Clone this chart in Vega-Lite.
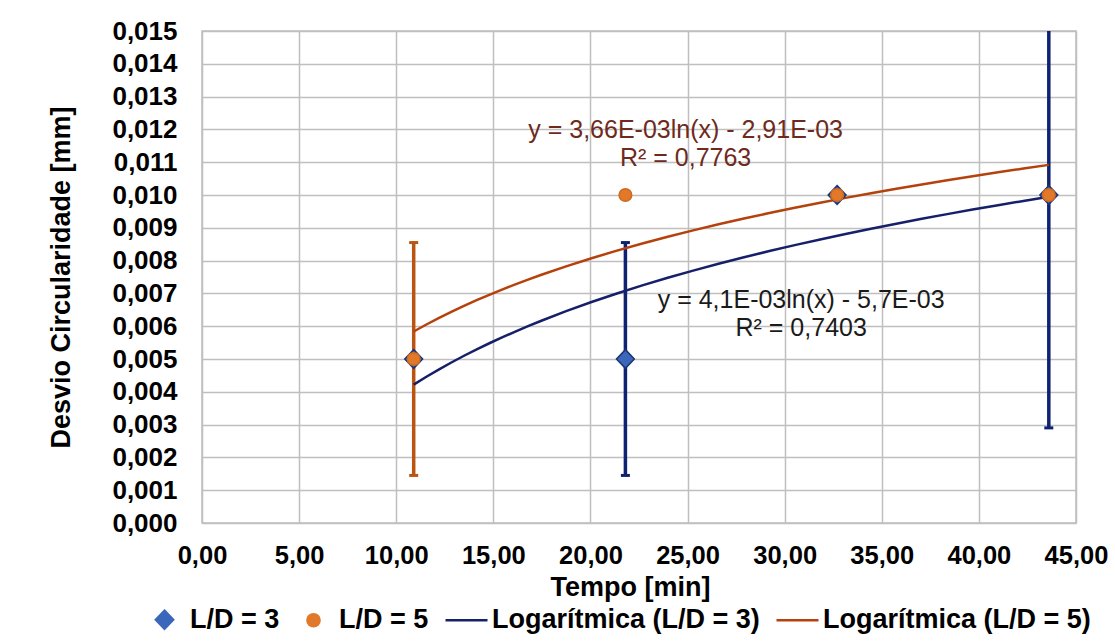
{
  "$schema": "https://vega.github.io/schema/vega-lite/v6.json",
  "width": 874,
  "height": 492,
  "autosize": "none",
  "padding": {"left": 202, "top": 31, "right": 39, "bottom": 118},
  "background": "white",
  "datasets": {
    "pts": [
      {"x": 10.9, "y": 0.005, "serie": "L/D = 3", "trend": "Logarítmica (L/D = 3)"},
      {"x": 21.8, "y": 0.005, "serie": "L/D = 3", "trend": "Logarítmica (L/D = 3)"},
      {"x": 32.7, "y": 0.010, "serie": "L/D = 3", "trend": "Logarítmica (L/D = 3)"},
      {"x": 43.6, "y": 0.010, "serie": "L/D = 3", "trend": "Logarítmica (L/D = 3)"},
      {"x": 10.9, "y": 0.005, "serie": "L/D = 5", "trend": "Logarítmica (L/D = 5)"},
      {"x": 21.8, "y": 0.010, "serie": "L/D = 5", "trend": "Logarítmica (L/D = 5)"},
      {"x": 32.7, "y": 0.010, "serie": "L/D = 5", "trend": "Logarítmica (L/D = 5)"},
      {"x": 43.6, "y": 0.010, "serie": "L/D = 5", "trend": "Logarítmica (L/D = 5)"}
    ],
    "err": [
      {"x": 10.9, "lo": 0.00145, "hi": 0.00855, "serie": "L/D = 5"},
      {"x": 21.8, "lo": 0.00145, "hi": 0.00855, "serie": "L/D = 3"},
      {"x": 43.6, "lo": 0.0029, "hi": 0.0171, "serie": "L/D = 3"}
    ],
    "notes": [
      {"x": 24.9, "y": 0.01198, "label": "y = 3,66E-03ln(x) - 2,91E-03", "grp": "5"},
      {"x": 24.9, "y": 0.01113, "label": "R² = 0,7763", "grp": "5"},
      {"x": 30.85, "y": 0.0068, "label": "y = 4,1E-03ln(x) - 5,7E-03", "grp": "3"},
      {"x": 30.85, "y": 0.00595, "label": "R² = 0,7403", "grp": "3"}
    ]
  },
  "layer": [
    {
      "data": {"name": "err"},
      "mark": {"type": "rule", "strokeWidth": 3.5, "clip": true},
      "encoding": {
        "x": {"field": "x", "type": "quantitative", "scale": {"domain": [0, 45], "nice": false},
          "axis": {"values": [0,5,10,15,20,25,30,35,40,45], "labelExpr": "replace(format(datum.value, '.2f'), '.', ',')", "title": "Tempo [min]", "titleX": 428}},
        "y": {"field": "lo", "type": "quantitative", "scale": {"domain": [0, 0.015], "nice": false},
          "axis": {"values": [0,0.001,0.002,0.003,0.004,0.005,0.006,0.007,0.008,0.009,0.01,0.011,0.012,0.013,0.014,0.015], "labelExpr": "replace(format(datum.value, '.3f'), '.', ',')", "title": "Desvio Circularidade [mm]"}},
        "y2": {"field": "hi"},
        "color": {"condition": {"test": "datum.serie === 'L/D = 3'", "value": "#0F2270"}, "value": "#BA5410"}
      }
    },
    {
      "data": {"name": "err"},
      "mark": {"type": "tick", "orient": "horizontal", "size": 9, "thickness": 3, "clip": true, "opacity": 1},
      "encoding": {
        "x": {"field": "x", "type": "quantitative"},
        "y": {"field": "lo", "type": "quantitative",
          "axis": {"values": [0,0.001,0.002,0.003,0.004,0.005,0.006,0.007,0.008,0.009,0.01,0.011,0.012,0.013,0.014,0.015], "labelExpr": "replace(format(datum.value, '.3f'), '.', ',')", "title": "Desvio Circularidade [mm]"}},
        "color": {"condition": {"test": "datum.serie === 'L/D = 3'", "value": "#0F2270"}, "value": "#BA5410"}
      }
    },
    {
      "data": {"name": "err"},
      "mark": {"type": "tick", "orient": "horizontal", "size": 9, "thickness": 3, "clip": true, "opacity": 1},
      "encoding": {
        "x": {"field": "x", "type": "quantitative"},
        "y": {"field": "hi", "type": "quantitative",
          "axis": {"values": [0,0.001,0.002,0.003,0.004,0.005,0.006,0.007,0.008,0.009,0.01,0.011,0.012,0.013,0.014,0.015], "labelExpr": "replace(format(datum.value, '.3f'), '.', ',')", "title": "Desvio Circularidade [mm]"}},
        "color": {"condition": {"test": "datum.serie === 'L/D = 3'", "value": "#0F2270"}, "value": "#BA5410"}
      }
    },
    {
      "data": {"name": "pts"},
      "transform": [{"regression": "y", "on": "x", "groupby": ["trend"], "method": "log"}],
      "mark": {"type": "line", "strokeWidth": 2.5, "clip": true},
      "encoding": {
        "x": {"field": "x", "type": "quantitative"},
        "y": {"field": "y", "type": "quantitative",
          "axis": {"values": [0,0.001,0.002,0.003,0.004,0.005,0.006,0.007,0.008,0.009,0.01,0.011,0.012,0.013,0.014,0.015], "labelExpr": "replace(format(datum.value, '.3f'), '.', ',')", "title": "Desvio Circularidade [mm]"}},
        "color": {"field": "trend", "type": "nominal",
          "scale": {"domain": ["L/D = 3", "L/D = 5", "Logarítmica (L/D = 3)", "Logarítmica (L/D = 5)"], "range": ["#3A67BA", "#E2782A", "#16206A", "#B5420C"]},
          "legend": {
            "title": null, "orient": "none", "legendX": -60, "legendY": 566, "direction": "horizontal",
            "columnPadding": 11, "labelFont": "Liberation Sans", "labelFontWeight": "bold", "labelFontSize": 27, "labelColor": "#000000",
            "symbolSize": 1764, "labelOffset": 3, "symbolStrokeWidth": 2.5, "padding": 0, "labelLimit": 400,
            "encode": {"symbols": {"update": {
              "shape": {"signal": "datum.value === 'L/D = 3' ? 'M0,-0.43L0.41,0L0,0.43L-0.41,0Z' : datum.value === 'L/D = 5' ? 'M-0.29,0A0.29,0.29,0,1,0,0.29,0A0.29,0.29,0,1,0,-0.29,0Z' : 'M-1,0L1,0'"},
              "fill": {"signal": "datum.value === 'L/D = 3' ? '#3A67BA' : datum.value === 'L/D = 5' ? '#E2782A' : 'transparent'"},
              "stroke": {"signal": "datum.value === 'L/D = 3' ? '#1C3474' : datum.value === 'L/D = 5' ? '#D06A20' : datum.value === 'Logarítmica (L/D = 3)' ? '#16206A' : '#B5420C'"},
              "opacity": {"value": 1}
            }}}
          }}
      }
    },
    {
      "data": {"name": "pts"},
      "mark": {"type": "point", "filled": true, "size": 1900, "opacity": 1, "strokeWidth": 1.5},
      "encoding": {
        "x": {"field": "x", "type": "quantitative"},
        "y": {"field": "y", "type": "quantitative",
          "axis": {"values": [0,0.001,0.002,0.003,0.004,0.005,0.006,0.007,0.008,0.009,0.01,0.011,0.012,0.013,0.014,0.015], "labelExpr": "replace(format(datum.value, '.3f'), '.', ',')", "title": "Desvio Circularidade [mm]"}},
        "color": {"field": "serie", "type": "nominal", "legend": {
            "title": null, "orient": "none", "legendX": -60, "legendY": 566, "direction": "horizontal",
            "columnPadding": 11, "labelFont": "Liberation Sans", "labelFontWeight": "bold", "labelFontSize": 27, "labelColor": "#000000",
            "symbolSize": 1764, "labelOffset": 3, "symbolStrokeWidth": 2.5, "padding": 0, "labelLimit": 400,
            "encode": {"symbols": {"update": {
              "shape": {"signal": "datum.value === 'L/D = 3' ? 'M0,-0.43L0.41,0L0,0.43L-0.41,0Z' : datum.value === 'L/D = 5' ? 'M-0.29,0A0.29,0.29,0,1,0,0.29,0A0.29,0.29,0,1,0,-0.29,0Z' : 'M-1,0L1,0'"},
              "fill": {"signal": "datum.value === 'L/D = 3' ? '#3A67BA' : datum.value === 'L/D = 5' ? '#E2782A' : 'transparent'"},
              "stroke": {"signal": "datum.value === 'L/D = 3' ? '#1C3474' : datum.value === 'L/D = 5' ? '#D06A20' : datum.value === 'Logarítmica (L/D = 3)' ? '#16206A' : '#B5420C'"},
              "opacity": {"value": 1}
            }}}
          }},
        "shape": {"field": "serie", "type": "nominal", "legend": null,
          "scale": {"domain": ["L/D = 3", "L/D = 5"], "range": ["M0,-0.43L0.41,0L0,0.43L-0.41,0Z", "M-0.29,0A0.29,0.29,0,1,0,0.29,0A0.29,0.29,0,1,0,-0.29,0Z"]}},
        "stroke": {"condition": {"test": "datum.serie === 'L/D = 3'", "value": "#1C3474"}, "value": "#D06A20"}
      }
    },
    {
      "data": {"name": "notes"},
      "mark": {"type": "text", "font": "Liberation Sans", "fontSize": 25, "align": "center", "baseline": "middle"},
      "encoding": {
        "x": {"field": "x", "type": "quantitative"},
        "y": {"field": "y", "type": "quantitative",
          "axis": {"values": [0,0.001,0.002,0.003,0.004,0.005,0.006,0.007,0.008,0.009,0.01,0.011,0.012,0.013,0.014,0.015], "labelExpr": "replace(format(datum.value, '.3f'), '.', ',')", "title": "Desvio Circularidade [mm]"}},
        "text": {"field": "label"},
        "color": {"condition": {"test": "datum.grp === '5'", "value": "#6E2A1C"}, "value": "#1A1A1A"}
      }
    }
  ],
  "config": {
    "view": {"stroke": "#BFBFBF", "strokeWidth": 1.5},
    "axis": {
      "domain": false, "ticks": false, "grid": true, "gridColor": "#BFBFBF", "gridWidth": 1.5,
      "labelOverlap": false, "labelFlush": false, "labelBound": false,
      "labelFont": "Liberation Sans", "labelFontWeight": "bold", "labelColor": "#000000",
      "titleFont": "Liberation Sans", "titleFontWeight": "bold", "titleFontSize": 27, "titleColor": "#000000"
    },
    "axisX": {"labelFontSize": 25.5, "labelPadding": 20, "titlePadding": 6},
    "axisY": {"labelFontSize": 26, "labelPadding": 25, "titlePadding": 36}
  }
}
